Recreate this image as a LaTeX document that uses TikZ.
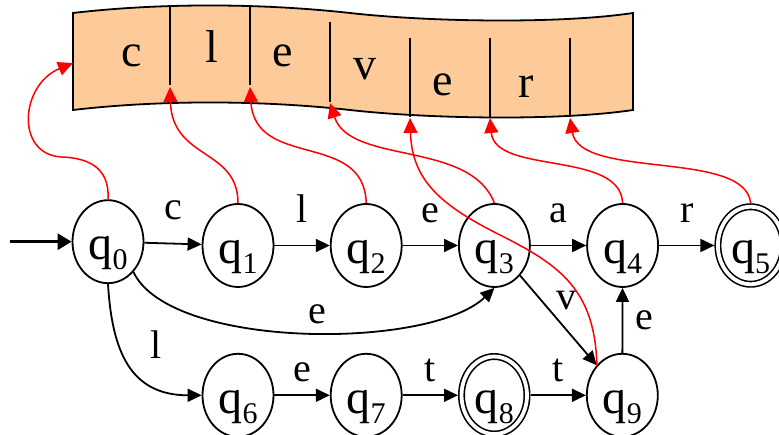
\documentclass[tikz,border=0pt]{standalone}
\usepackage{fontspec}
\setmainfont{Liberation Serif}
\usepackage{tikz}
\usetikzlibrary{shapes.geometric, positioning, arrows.meta}
\definecolor{cinta}{RGB}{253,203,153}
\newcommand{\qsub}[1]{\raisebox{-10pt}{\fontsize{30}{30}\selectfont #1}}

\begin{document}
\begin{tikzpicture}[
            x=1pt, y=1pt,
            node distance=65pt and 55.4pt,
            % Definición de estilos
            state/.style={ellipse, draw=black, line width=1.8pt, minimum width=71pt, minimum height=83pt, inner sep=0pt, text height=36pt, text depth=0pt, font=\fontsize{48}{52}\selectfont},
            accept/.style={state, line width=1.6pt, double, double distance=3.8pt, minimum width=65.5pt, minimum height=77.5pt, outer sep=3.5pt},
            lbl/.style={font=\fontsize{40}{44}\selectfont, inner sep=3pt},
            letter/.style={anchor=base, font=\fontsize{46}{50}\selectfont, inner sep=0pt},
            arrow/.style={line width=1.8pt, -{Triangle[length=14pt, width=13pt]}},
            init/.style={line width=3pt, -{Triangle[length=14pt, width=16pt]}},
            read/.style={red, line width=1.5pt, -{Triangle[length=15pt, width=14pt]}}
        ]
            \useasboundingbox (0,0) rectangle (779,435);

            % --- Cinta ---
            \draw[line width=1.8pt, fill=cinta] (73,422) .. controls (150,431) and (250,433) .. (350,422)
                .. controls (430,413) and (560,411) .. (633,422) -- (633,325)
                .. controls (560,314) and (430,316) .. (350,325)
                .. controls (250,336) and (150,334) .. (73,325) -- cycle;
            \foreach \x/\ya/\yb in {170/429/350, 250/429/350, 330/413/333, 410/397/318, 490/397/318, 570/397/318}
                \draw[line width=1.8pt] (\x,\ya) -- (\x,\yb);

            \node[letter] (cc) at (132,368) {c};
            \node[letter] (cl) at (212,372) {l};
            \node[letter] (ce1) at (283,368) {e};
            \node[letter] (cv) at (365,355) {v};
            \node[letter] (ce2) at (443,339) {e};
            \node[letter] (cr) at (526,337) {r};

            \coordinate (tL) at (73,372);
            \coordinate (t1) at (170,348);
            \coordinate (t2) at (250,348);
            \coordinate (t3) at (330,332);
            \coordinate (t4) at (410,317);
            \coordinate (t5) at (490,317);
            \coordinate (t6) at (570,317);

            % --- Estados ---
            \node (q0) [state] at (108,193.3) {q\qsub{0}};
            \node (q1) [state] at (238,189.5) {q\qsub{1}};
            \node (q2) [state, right=of q1] {q\qsub{2}};
            \node (q3) [state, right=of q2] {q\qsub{3}};
            \node (q4) [state, right=of q3] {q\qsub{4}};
            \node (q5) [accept, right=of q4] {q\qsub{5}};
            \node (q6) [state, below=of q1] {q\qsub{6}};
            \node (q7) [state, right=of q6] {q\qsub{7}};
            \node (q8) [accept, right=of q7] {q\qsub{8}};
            \node (q9) [state, right=of q8] {q\qsub{9}};

            \coordinate (start) at (10,193.3);

            % --- Transiciones ---
            \draw [init] (start) -- (q0);
            \draw [arrow] (q0) -- node[lbl, above=20pt] (l01) {c} (q1);
            \draw [arrow] (q1) -- node[lbl, above=19pt] (l12) {l} (q2);
            \draw [arrow] (q2) -- node[lbl, above=19pt] (l23) {e} (q3);
            \draw [arrow] (q3) -- node[lbl, above=19pt] (l34) {a} (q4);
            \draw [arrow] (q4) -- node[lbl, above=19pt] (l45) {r} (q5);
            \draw [arrow] (q0.-50) .. controls +(37,-78) and +(-64,-62) .. node[lbl, pos=0.53, above=5pt] (l03) {e} (q3.south);
            \draw [arrow] (q0.south) .. controls +(4,-66) and +(-72,0) .. node[lbl, pos=0.35, right=28pt] (l06) {l} (q6.west);
            \draw [arrow] (q6) -- node[lbl, above=10pt] (l67) {e} (q7);
            \draw [arrow] (q7) -- node[lbl, above=10pt] (l78) {t} (q8);
            \draw [arrow] (q8) -- node[lbl, above=10pt] (l89) {t} (q9);
            \draw [arrow] (q3) -- node[lbl, pos=0.28, right=11pt] (l39) {v} (q9);
            \draw [arrow] (q9) -- node[lbl, right=9pt] (l94) {e} (q4);

            % --- Lectura de la cinta ---
            \draw [read] (q0.north) .. controls +(2,34) and +(23,-1) .. (62,278)
                .. controls +(-47,2) and +(-53,-22) .. (tL);
            \draw [read] (q1.north) .. controls +(0,55) and +(2,-73) .. (t1);
            \draw [read] (q2.north) .. controls +(-2,73) and +(5,-83) .. (t2);
            \draw [read] (q3.north) .. controls +(-24,63) and +(20,-62) .. (t3);
            \draw [read] (q4.north) .. controls +(-2,53) and +(5,-57) .. (t5);
            \draw [read] (q5.north) .. controls +(-5,54) and +(10,-62) .. (t6);
            \draw [read] (q9.130) .. controls +(-2,75) and +(60,-30) .. (500,200)
                .. controls +(-60,30) and +(2,-62) .. (t4);

        \end{tikzpicture}
\end{document}
